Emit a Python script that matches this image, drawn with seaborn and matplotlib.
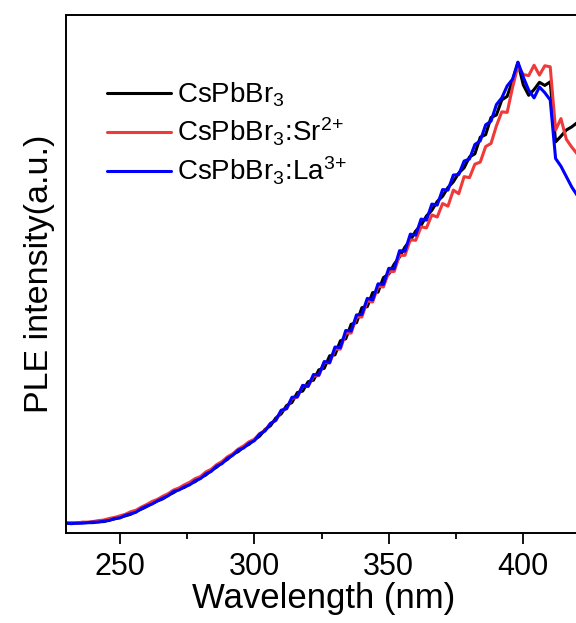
import seaborn as sns
import pandas as pd
import matplotlib.pyplot as plt

# PLE spectra (normalised, arbitrary units)
wavelength = list(range(230, 422, 2))

cspbbr3 = [1.9, 1.9, 1.9, 2.0, 2.0, 2.0, 2.2, 2.2, 2.5, 2.7,
           3.0, 3.3, 3.6, 4.2, 4.6, 5.1, 5.7, 6.2, 6.6, 7.3,
           7.8, 8.5, 8.8, 9.5, 9.9, 10.7, 11.2, 12.1, 12.7, 13.6,
           14.2, 15.2, 15.7, 16.6, 17.1, 18.0, 18.7, 20.0, 20.7, 22.2,
           23.0, 24.6, 25.2, 27.1, 27.4, 29.2, 29.5, 31.5, 31.8, 34.2,
           34.4, 37.1, 37.5, 40.3, 40.6, 43.5, 43.7, 46.4, 46.5, 49.3,
           50.0, 51.9, 53.3, 55.2, 56.5, 58.3, 59.4, 61.2, 62.3, 64.0,
           65.0, 66.7, 67.8, 69.5, 70.5, 72.6, 73.2, 76.4, 76.9, 80.2,
           80.7, 83.6, 84.3, 87.3, 90.8, 86.5, 84.5, 85.6, 87.0, 86.4,
           87.1, 75.5, 76.6, 77.8, 78.4, 79.2]

cspbbr3_sr = [1.9, 2.0, 1.9, 2.1, 2.1, 2.2, 2.4, 2.5, 2.8, 3.0,
              3.3, 3.6, 4.1, 4.4, 5.0, 5.5, 6.1, 6.5, 7.1, 7.6,
              8.3, 8.7, 9.3, 9.8, 10.5, 10.9, 11.8, 12.3, 13.2, 13.8,
              14.7, 15.3, 16.2, 16.8, 17.6, 18.1, 19.2, 19.8, 21.2, 21.7,
              23.6, 24.0, 26.0, 26.2, 28.5, 28.3, 30.3, 30.4, 33.0, 32.8,
              35.5, 35.5, 38.6, 38.6, 41.7, 41.7, 44.8, 44.6, 47.6, 47.5,
              50.4, 50.5, 53.6, 53.6, 56.6, 56.5, 59.1, 58.9, 61.4, 61.0,
              63.6, 63.1, 66.2, 65.5, 68.8, 68.6, 71.2, 71.6, 74.6, 75.2,
              78.6, 81.3, 81.2, 86.0, 90.2, 88.5, 88.3, 90.3, 88.4, 90.2,
              90.0, 77.8, 80.0, 76.0, 74.5, 73.2]

cspbbr3_la = [1.9, 1.8, 1.9, 1.9, 2.0, 2.1, 2.1, 2.3, 2.4, 2.8,
              2.9, 3.4, 3.7, 4.0, 4.7, 5.2, 5.6, 6.2, 6.7, 7.2,
              8.0, 8.3, 8.9, 9.3, 10.1, 10.5, 11.4, 11.9, 12.9, 13.4,
              14.4, 15.0, 16.0, 16.4, 17.3, 17.8, 19.1, 19.7, 21.1, 21.8,
              23.7, 24.0, 26.2, 26.3, 28.5, 28.3, 30.6, 30.5, 33.1, 32.9,
              35.9, 35.8, 39.1, 39.0, 42.1, 42.2, 45.3, 45.0, 48.1, 48.0,
              51.1, 51.0, 54.5, 54.4, 57.7, 57.5, 60.6, 60.4, 63.5, 63.3,
              66.3, 66.2, 69.1, 69.2, 71.8, 72.2, 75.0, 75.7, 78.8, 79.5,
              82.7, 84.0, 86.3, 87.6, 90.9, 88.0, 85.5, 84.0, 86.1, 85.0,
              83.6, 72.3, 70.8, 68.8, 66.8, 65.2]

labels = ['CsPbBr$_3$', 'CsPbBr$_3$:Sr$^{2\\!+}$', 'CsPbBr$_3$:La$^{3\\!+}$']
colors = ['#000000', '#f03a3a', '#0000ff']

sns.set_style('ticks')
plt.rcParams['font.family'] = ['Liberation Sans', 'DejaVu Sans']
plt.rcParams['mathtext.fontset'] = 'custom'
plt.rcParams['mathtext.rm'] = 'Liberation Sans'
plt.rcParams['mathtext.it'] = 'Liberation Sans:italic'
plt.rcParams['mathtext.bf'] = 'Liberation Sans:bold'
plt.rcParams['text.color'] = 'black'
plt.rcParams['axes.labelcolor'] = 'black'
plt.rcParams['xtick.color'] = 'black'
plt.rcParams['ytick.color'] = 'black'

fig = plt.figure(figsize=(5.76, 6.23), dpi=100)
# axes run past the right edge of the picture, as in the reference crop
ax = fig.add_axes([66 / 576, 1 - 533 / 623, 538 / 576, 518 / 623])

for ys, lab, c in zip([cspbbr3, cspbbr3_sr, cspbbr3_la], labels, colors):
    df = pd.DataFrame({'wl': wavelength, 'I': ys})
    sns.lineplot(x='wl', y='I', data=df, color=c, linewidth=2.2, label=lab, ax=ax)

ax.set_xlim(230, 430)
ax.set_ylim(0, 100)
ax.set_xticks([250, 300, 350, 400])
ax.set_xticks([275, 325, 375], minor=True)
ax.set_yticks([])
ax.tick_params(axis='x', which='major', length=8, width=1.3, labelsize=22, pad=6, direction='out')
ax.tick_params(axis='x', which='minor', length=4.5, width=1.3, direction='out')
for s in ax.spines.values():
    s.set_linewidth(1.4)
    s.set_color('black')

ax.set_xlabel('Wavelength (nm)', fontsize=25)
ax.xaxis.set_label_coords(0.478, -0.095)
ax.set_ylabel('PLE intensity(a.u.)', fontsize=24.5, labelpad=8)

ax.legend(frameon=False, fontsize=20, loc='upper left',
          bbox_to_anchor=(0.055, 0.895), handlelength=2.3, handletextpad=0.22,
          labelspacing=0.25, borderaxespad=0)

plt.savefig('out.png', dpi=100)
